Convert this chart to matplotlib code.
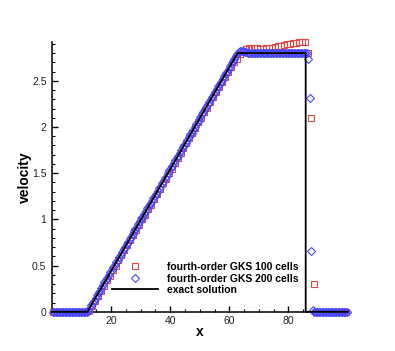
import numpy as np
import matplotlib
matplotlib.use("Agg")
import matplotlib.pyplot as plt
from matplotlib.ticker import MultipleLocator

plt.rcParams['font.family'] = ['Liberation Sans', 'DejaVu Sans']

# ---- data ----
n100 = 100
n200 = 200
x_100 = (np.arange(n100) + 0.5) * (100.0 / n100)
x_200 = (np.arange(n200) + 0.5) * (100.0 / n200)

u_100 = [
    0, 0, 0, 0, 0, 0, 0, 0, 0, 0, 0, 0,
    0.01, 0.06, 0.12, 0.17, 0.23, 0.28, 0.34, 0.39, 0.45, 0.50,
    0.56, 0.61, 0.67, 0.72, 0.78, 0.83, 0.89, 0.94, 1.00, 1.05,
    1.11, 1.16, 1.22, 1.27, 1.33, 1.39, 1.44, 1.50, 1.55, 1.61,
    1.66, 1.72, 1.77, 1.83, 1.88, 1.94, 1.99, 2.05, 2.10, 2.16,
    2.21, 2.27, 2.32, 2.38, 2.43, 2.49, 2.54, 2.60, 2.65, 2.70,
    2.74,
    2.79, 2.82, 2.84, 2.85, 2.855, 2.855, 2.85, 2.845, 2.845, 2.85,
    2.855, 2.86, 2.87, 2.875, 2.88, 2.89, 2.895, 2.90, 2.905, 2.91,
    2.915, 2.92, 2.92,
    2.80, 2.10, 0.30,
    0, 0, 0, 0, 0, 0, 0, 0, 0, 0, 0,
]

u_200 = [
    0, 0, 0, 0, 0, 0, 0, 0, 0, 0, 0, 0,
    0, 0, 0, 0, 0, 0, 0, 0, 0, 0, 0, 0,
    0.01, 0.04, 0.07, 0.10, 0.12, 0.15, 0.18, 0.21, 0.23, 0.26,
    0.29, 0.32, 0.34, 0.37, 0.40, 0.43, 0.45, 0.48, 0.51, 0.54,
    0.56, 0.59, 0.62, 0.65, 0.68, 0.70, 0.73, 0.76, 0.79, 0.81,
    0.84, 0.87, 0.90, 0.92, 0.95, 0.98, 1.01, 1.03, 1.06, 1.09,
    1.12, 1.14, 1.17, 1.20, 1.23, 1.25, 1.28, 1.31, 1.34, 1.36,
    1.39, 1.42, 1.45, 1.47, 1.50, 1.53, 1.56, 1.58, 1.61, 1.64,
    1.67, 1.69, 1.72, 1.75, 1.78, 1.81, 1.83, 1.86, 1.89, 1.92,
    1.94, 1.97, 2.00, 2.03, 2.05, 2.08, 2.11, 2.14, 2.16, 2.19,
    2.22, 2.25, 2.27, 2.30, 2.33, 2.36, 2.38, 2.41, 2.44, 2.47,
    2.49, 2.52, 2.55, 2.58, 2.60, 2.63, 2.66, 2.69, 2.71, 2.74,
    2.77, 2.79,
    2.81, 2.82, 2.82, 2.82, 2.815, 2.81, 2.805, 2.80,
    2.80, 2.80, 2.80, 2.80, 2.80, 2.80, 2.80, 2.80, 2.80, 2.80,
    2.80, 2.80, 2.80, 2.80, 2.80, 2.80, 2.80, 2.80, 2.80, 2.80,
    2.80, 2.80, 2.80, 2.80, 2.80, 2.80, 2.80, 2.80, 2.80, 2.80,
    2.80, 2.80, 2.80, 2.80, 2.80, 2.80, 2.80, 2.80, 2.80,
    2.74, 2.31, 0.66, 0.02,
    0, 0, 0, 0, 0, 0, 0, 0, 0, 0, 0, 0,
    0, 0, 0, 0, 0, 0, 0, 0, 0, 0, 0,
]

x_exact = [0.0, 12.0, 62.8, 85.85, 85.85, 100.0]
u_exact = [0.0, 0.0, 2.8, 2.8, 0.0, 0.0]

x_ticks = [20, 40, 60, 80]
y_ticks = [0, 0.5, 1, 1.5, 2, 2.5]
y_ticklabels = ['0', '0.5', '1', '1.5', '2', '2.5']

labels = ["fourth-order GKS 100 cells", "fourth-order GKS 200 cells", "exact solution"]

# ---- figure ----
fig = plt.figure(figsize=(3.95, 3.51), dpi=100)
ax = fig.add_axes([52 / 395, 1 - 311.8 / 351, 295.5 / 395, (311.8 - 42.3) / 351])

red = '#e04848'
blue = '#4848ff'

ax.plot(x_100, u_100, linestyle='none', marker='s', ms=4.2, mfc='none',
        mec=red, mew=0.8, clip_on=False, zorder=3, label=labels[0])
ax.plot(x_200, u_200, linestyle='none', marker='D', ms=4.0, mfc='none',
        mec=blue, mew=0.8, clip_on=False, zorder=4, label=labels[1])
ax.plot(x_exact, u_exact, color='black', lw=1.3, zorder=5, clip_on=False,
        label=labels[2])

ax.set_xlim(0, 100)
ax.set_ylim(0, 2.917)

for s in ['top', 'right']:
    ax.spines[s].set_visible(False)
for s in ['left', 'bottom']:
    ax.spines[s].set_linewidth(1.1)

ax.set_xticks(x_ticks)
ax.xaxis.set_minor_locator(MultipleLocator(5))
ax.set_yticks(y_ticks)
ax.set_yticklabels(y_ticklabels)
ax.yaxis.set_minor_locator(MultipleLocator(0.1))
ax.tick_params(which='major', direction='in', length=4.5, width=1.0,
               labelsize=7.5, colors='black', labelcolor='#222222', pad=3)
ax.tick_params(which='minor', direction='in', length=2.5, width=0.8)
ax.tick_params(axis='y', which='major', pad=4)

ax.set_xlabel('x', fontsize=10, fontweight='bold', labelpad=-1)
ax.set_ylabel('velocity', fontsize=10, fontweight='bold', labelpad=0)

fs = 7.5
leg = ax.legend(loc='upper left', bbox_to_anchor=(111.7 / 395, 1 - 262 / 351),
                bbox_transform=fig.transFigure, frameon=False,
                prop={'weight': 'bold', 'size': fs},
                handlelength=4.4, handletextpad=0.9, labelspacing=0.15,
                borderpad=0, borderaxespad=0, numpoints=1)

fig.savefig('out.png', dpi=100)
